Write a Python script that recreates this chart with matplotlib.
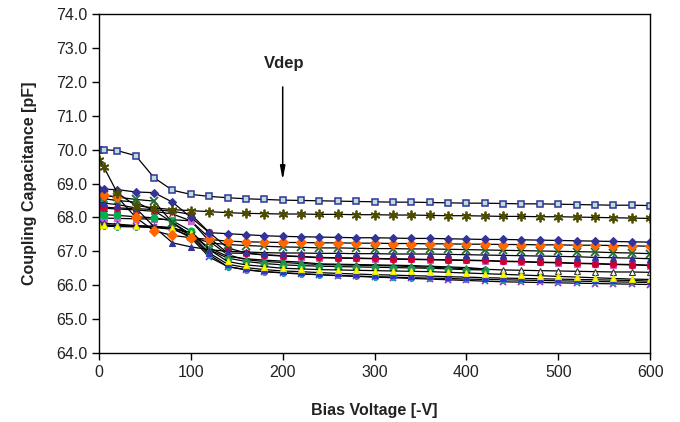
import matplotlib.pyplot as plt

plt.rcParams['font.family'] = ['Liberation Sans', 'DejaVu Sans']

# bias voltage steps
v = [0, 5, 20, 40, 60, 80, 100, 120, 140, 160, 180, 200, 220, 240, 260, 280,
     300, 320, 340, 360, 380, 400, 420, 440, 460, 480, 500, 520, 540, 560, 580, 600]

# coupling capacitance [pF] for each strip
c_square = [70.00, 70.00, 69.97, 69.82, 69.17, 68.80, 68.68, 68.62, 68.58, 68.55, 68.53, 68.51,
            68.50, 68.49, 68.48, 68.47, 68.46, 68.45, 68.45, 68.44, 68.43, 68.42, 68.42, 68.41,
            68.40, 68.40, 68.39, 68.38, 68.37, 68.36, 68.36, 68.35]
c_star = [69.70, 69.50, 68.72, 68.35, 68.28, 68.23, 68.20, 68.17, 68.14, 68.12, 68.11, 68.10,
          68.10, 68.09, 68.09, 68.08, 68.08, 68.07, 68.07, 68.06, 68.05, 68.05, 68.04, 68.03,
          68.03, 68.02, 68.02, 68.01, 68.00, 67.99, 67.98, 67.97]
c_bdiam = [68.85, 68.83, 68.82, 68.75, 68.73, 68.45, 68.00, 67.55, 67.52, 67.49, 67.46, 67.44,
           67.43, 67.42, 67.41, 67.40, 67.40, 67.39, 67.38, 67.38, 67.37, 67.36, 67.35, 67.35,
           67.34, 67.33, 67.32, 67.31, 67.30, 67.29, 67.28, 67.27]
c_odiam = [68.80, 68.65, 68.60, 68.00, 67.60, 67.47, 67.40, 67.35, 67.30, 67.28, 67.27, 67.26,
           67.26, 67.25, 67.25, 67.24, 67.24, 67.23, 67.23, 67.22, 67.22, 67.21, 67.21, 67.20,
           67.20, 67.19, 67.19, 67.18, 67.18, 67.17, 67.16, 67.15]
c_gx = [68.70, 68.65, 68.60, 68.53, 68.48, 67.84, 67.45, 67.25, 67.20, 67.17, 67.15, 67.13,
        67.12, 67.10, 67.10, 67.09, 67.08, 67.08, 67.07, 67.07, 67.06, 67.05, 67.04, 67.03,
        67.02, 67.01, 67.00, 66.99, 66.98, 66.96, 66.95, 66.93]
c_btri = [68.45, 68.42, 68.38, 68.28, 67.72, 67.25, 67.13, 67.05, 67.00, 66.98, 66.96, 66.95,
          66.95, 66.94, 66.94, 66.93, 66.93, 66.92, 66.92, 66.92, 66.91, 66.90, 66.89, 66.88,
          66.87, 66.86, 66.85, 66.84, 66.82, 66.81, 66.80, 66.78]
c_red = [68.32, 68.30, 68.28, 68.26, 68.23, 68.18, 68.09, 67.56, 67.10, 66.95, 66.90, 66.87,
         66.85, 66.82, 66.81, 66.80, 66.79, 66.78, 66.77, 66.76, 66.75, 66.74, 66.73, 66.71,
         66.70, 66.68, 66.67, 66.65, 66.64, 66.62, 66.61, 66.59]
c_open = [68.28, 68.27, 68.25, 68.22, 68.18, 68.10, 67.90, 67.30, 66.90, 66.75, 66.70, 66.67,
          66.64, 66.61, 66.60, 66.59, 66.58, 66.57, 66.55, 66.53, 66.51, 66.49, 66.47, 66.45,
          66.44, 66.43, 66.42, 66.41, 66.40, 66.39, 66.39, 66.38]
c_pink = [68.00, 67.98, 67.97, 67.96, 67.95, 67.93, 67.90, 67.40, 66.95, 66.94, 66.89, 66.86,
          66.84, 66.81, 66.80, 66.79, 66.78, 66.77, 66.76, 66.75, 66.74, 66.73, 66.72, 66.70,
          66.69, 66.67, 66.66, 66.64, 66.63, 66.61, 66.60, 66.58]
c_gtri = [68.60, 68.55, 68.50, 68.45, 68.20, 67.85, 67.50, 67.10, 66.85, 66.78, 66.74, 66.71,
          66.68, 66.63, 66.62, 66.61, 66.60, 66.59, 66.58, 66.56, 66.54, 66.52, 66.48]
c_gcirc = [68.09, 68.08, 68.06, 68.02, 67.99, 67.90, 67.60, 67.05, 66.80, 66.70, 66.64, 66.60,
           66.58, 66.56, 66.55, 66.54, 66.53, 66.52, 66.51, 66.50, 66.48, 66.46, 66.45]
c_yel = [67.78, 67.77, 67.76, 67.74, 67.72, 67.68, 67.55, 67.05, 66.70, 66.60, 66.55, 66.50,
         66.48, 66.46, 66.45, 66.44, 66.43, 66.42, 66.41, 66.40, 66.38, 66.36, 66.34, 66.32,
         66.30, 66.28, 66.26, 66.24, 66.22, 66.20, 66.18, 66.17]
c_blue2 = [67.85, 67.83, 67.80, 67.76, 67.74, 67.70, 67.50, 66.95, 66.62, 66.52, 66.46, 66.42,
           66.40, 66.37, 66.35, 66.33, 66.31, 66.30, 66.28, 66.27, 66.25, 66.24, 66.22, 66.21,
           66.20, 66.19, 66.18, 66.17, 66.16, 66.15, 66.14, 66.12]
c_teal = [67.75, 67.74, 67.73, 67.72, 67.70, 67.65, 67.45, 66.90, 66.55, 66.45, 66.40, 66.36,
          66.33, 66.31, 66.29, 66.27, 66.25, 66.24, 66.22, 66.21, 66.20, 66.18, 66.17, 66.16,
          66.15, 66.14, 66.13, 66.12, 66.11, 66.10, 66.09, 66.08]
c_purp = [67.80, 67.78, 67.76, 67.74, 67.72, 67.68, 67.40, 66.83, 66.55, 66.46, 66.40, 66.37,
          66.34, 66.31, 66.28, 66.26, 66.24, 66.22, 66.20, 66.18, 66.16, 66.14, 66.12, 66.10,
          66.09, 66.08, 66.07, 66.06, 66.05, 66.04, 66.03, 66.02]

fig = plt.figure(figsize=(6.8, 4.22), dpi=100)
ax = fig.add_axes([0.1456, 0.1635, 0.8104, 0.8033])

def draw(y, marker, face, edge, ms=4.5, mew=0.8):
    ax.plot(v[:len(y)], y, color='black', lw=0.9, marker=marker, ms=ms,
            mfc=face, mec=edge, mew=mew)

draw(c_open, '^', 'white', '#333333', ms=5)
draw(c_pink, 's', '#CC66CC', '#CC66CC')
draw(c_gcirc, 'o', '#00B050', '#00B050', ms=5)
draw(c_gtri, '^', '#2E8B57', '#2E8B57', ms=5)
draw(c_purp, 'x', '#9933CC', '#9933CC', ms=4.5, mew=1.3)
draw(c_teal, 'P', '#1A9E9E', '#1A9E9E', ms=4.5)
draw(c_blue2, '^', '#3333CC', '#3333CC', ms=4.5)
draw(c_yel, '^', '#FFFF00', '#E6E600', ms=5)
draw(c_red, 'o', '#CC0033', '#CC0033', ms=4.5)
draw(c_btri, '^', '#333399', '#333399', ms=5)
draw(c_gx, 'x', '#1F6B2E', '#1F6B2E', ms=6, mew=1.3)
draw(c_odiam, 'D', '#FF6600', '#FF6600', ms=5)
draw(c_bdiam, 'D', '#333399', '#333399', ms=4.5)
draw(c_star, (6, 2, 0), '#4D4D00', '#4D4D00', ms=7, mew=1.3)
draw(c_square, 's', '#B8E2D4', '#333399', ms=5, mew=1.1)

ax.annotate('', xy=(200, 69.1), xytext=(200, 71.85),
            arrowprops=dict(arrowstyle='-|>,head_length=0.8,head_width=0.15',
                            color='black', lw=1.1, shrinkA=0, shrinkB=0))
ax.text(202, 72.55, 'Vdep', ha='center', va='center', fontsize=12, fontweight='bold',
        color='#222222')

ax.set_xlim(0, 600)
ax.set_ylim(64, 74)
ax.set_xticks(range(0, 601, 100))
ax.set_yticks(range(64, 75))
ax.set_yticklabels(['%.1f' % t for t in range(64, 75)])
ax.tick_params(direction='out', length=5, width=1, labelsize=11.5, colors='black',
               labelcolor='#222222')
for s in ax.spines.values():
    s.set_linewidth(1.0)

ax.set_xlabel('Bias Voltage [-V]', fontsize=11.5, fontweight='bold', color='#222222',
              labelpad=17)
ax.set_ylabel('Coupling Capacitance [pF]', fontsize=11.5, fontweight='bold',
              color='#222222', labelpad=14)

fig.savefig('out.png', dpi=100)
